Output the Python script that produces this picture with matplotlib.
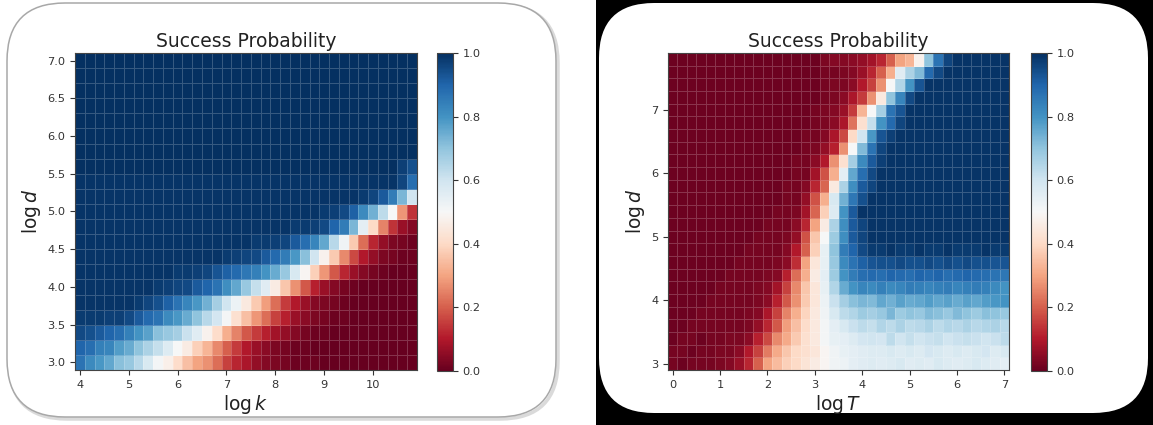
import numpy as np
import matplotlib.pyplot as plt
from matplotlib.patches import FancyBboxPatch, Rectangle

W, H = 1153, 425

# ---- left map: success probability (%) over log k / log d ----
log_k = [4.0, 4.2, 4.4, 4.6, 4.8, 5.0, 5.2, 5.4, 5.6, 5.8, 6.0, 6.2, 6.4, 6.6, 6.8,
         7.0, 7.2, 7.4, 7.6, 7.8, 8.0, 8.2, 8.4, 8.6, 8.8, 9.0, 9.2, 9.4, 9.6, 9.8,
         10.0, 10.2, 10.4, 10.6, 10.8]
log_d_k = [3.0, 3.2, 3.4, 3.6, 3.8, 4.0, 4.2, 4.4, 4.6, 4.8, 5.0, 5.2, 5.4, 5.6,
           5.8, 6.0, 6.2, 6.4, 6.6, 6.8, 7.0]
# rows from log d = 3.0 upwards
succ_k = [
    [87, 82, 79, 76, 71, 69, 64, 58, 51, 47, 41, 35, 30, 27, 22, 16, 12, 9, 6, 4, 3, 2, 1, 1, 1] + [0] * 10,
    [90, 88, 84, 83, 78, 75, 70, 66, 62, 57, 50, 46, 38, 33, 26, 20, 15, 10, 7, 5, 3, 2, 1, 1] + [0] * 11,
    [95, 94, 92, 90, 88, 84, 80, 77, 71, 69, 67, 61, 56, 48, 41, 32, 25, 19, 15, 11, 8, 6, 4, 2, 1, 1] + [0] * 9,
    [98, 98, 98, 97, 97, 95, 92, 89, 87, 82, 79, 75, 70, 64, 59, 51, 42, 35, 28, 22, 16, 11, 7, 5, 3, 2, 1, 1] + [0] * 7,
    [99] * 6 + [98, 96, 94, 91, 87, 83, 79, 74, 67, 60, 53, 45, 37, 29, 22, 15, 10, 7, 4, 3, 2, 1] + [0] * 7,
    [99] * 8 + [98, 97, 96, 95, 92, 90, 87, 81, 76, 69, 62, 56, 46, 36, 27, 19, 11, 7, 4, 2, 1] + [0] * 6,
    [99] * 10 + [98, 98, 97, 96, 93, 91, 89, 86, 84, 80, 75, 69, 58, 49, 38, 28, 19, 12, 7, 4, 2, 1] + [0] * 3,
    [99] * 15 + [98, 97, 96, 95, 92, 89, 85, 79, 71, 60, 48, 37, 26, 17, 10, 6, 3, 2, 1, 1],
    [99] * 18 + [98, 98, 97, 96, 92, 88, 83, 76, 64, 52, 37, 22, 12, 6, 3, 2, 1],
    [99] * 22 + [98, 98, 97, 95, 90, 85, 73, 55, 40, 25, 14, 7, 4],
    [99] * 25 + [98, 97, 95, 91, 82, 74, 63, 50, 28, 14],
    [99] * 29 + [98, 96, 92, 85, 73, 60],
    [99] * 33 + [96, 88],
    [100] * 33 + [97, 94],
    [100] * 35,
    [100] * 35,
    [100] * 35,
    [100] * 35,
    [100] * 35,
    [100] * 35,
    [100] * 35,
]

# ---- right map: success probability (%) over log T / log d ----
log_T = [0.0, 0.2, 0.4, 0.6, 0.8, 1.0, 1.2, 1.4, 1.6, 1.8, 2.0, 2.2, 2.4, 2.6, 2.8,
         3.0, 3.2, 3.4, 3.6, 3.8, 4.0, 4.2, 4.4, 4.6, 4.8, 5.0, 5.2, 5.4, 5.6, 5.8,
         6.0, 6.2, 6.4, 6.6, 6.8, 7.0]
log_d_T = [3.0, 3.2, 3.4, 3.6, 3.8, 4.0, 4.2, 4.4, 4.6, 4.8, 5.0, 5.2, 5.4, 5.6,
           5.8, 6.0, 6.2, 6.4, 6.6, 6.8, 7.0, 7.2, 7.4, 7.6, 7.8]
succ_T = [
    [2, 1, 2, 2, 2, 3, 4, 7, 12, 20, 30, 34, 38, 40, 43, 46, 49, 52, 53, 55,
     56, 57, 56, 57, 58, 56, 57, 56, 58, 57, 56, 57, 58, 57, 56, 55],
    [2, 2, 1, 2, 2, 3, 3, 5, 10, 16, 24, 31, 36, 40, 42, 44, 49, 52, 54, 55,
     56, 57, 57, 58, 57, 58, 57, 59, 58, 57, 58, 57, 58, 59, 57, 58],
    [1, 2, 2, 1, 2, 2, 3, 3, 5, 11, 17, 26, 31, 37, 42, 45, 51, 54, 55, 57,
     59, 60, 59, 63, 60, 62, 60, 61, 62, 60, 61, 62, 61, 60, 61, 63],
    [1, 1, 2, 2, 2, 2, 2, 2, 3, 6, 12, 19, 29, 35, 41, 45, 51, 55, 58, 61,
     63, 62, 65, 63, 66, 63, 64, 66, 63, 65, 64, 66, 64, 65, 66, 64],
    [1, 1, 1, 2, 2, 2, 2, 2, 3, 4, 9, 16, 25, 32, 39, 45, 52, 58, 63, 65,
     68, 67, 69, 73, 68, 70, 69, 72, 71, 69, 72, 70, 68, 71, 70, 69],
    [1, 1, 1, 1, 2, 2, 2, 2, 2, 3, 5, 11, 19, 27, 37, 44, 53, 61, 67, 71,
     73, 72, 76, 74, 77, 75, 76, 78, 76, 77, 75, 77, 76, 78, 79, 80],
    [1, 1, 1, 1, 1, 2, 2, 2, 2, 3, 4, 8, 16, 26, 36, 44, 54, 65, 75, 80,
     83, 82, 84, 82, 83, 85, 84, 83, 84, 85, 83, 84, 85, 84, 82, 80],
    [1, 1, 1, 1, 1, 1, 2, 2, 2, 2, 3, 4, 11, 22, 32, 46, 55, 68, 80, 85,
     88, 89, 88, 90, 89, 88, 90, 89, 90, 88, 89, 90, 89, 88, 87, 86],
    [1, 1, 1, 1, 1, 1, 1, 2, 2, 2, 2, 3, 5, 13, 30, 44, 54, 69, 82, 87,
     91, 93, 94, 94, 95, 94, 94, 95, 94, 95, 94, 95, 94, 94, 93, 93],
    [1, 1, 1, 1, 1, 1, 1, 1, 2, 2, 2, 2, 4, 10, 20, 38, 54, 70, 85, 90,
     95, 98, 98, 99, 98, 98, 99, 98, 98, 99, 98, 98, 98, 99, 98, 98],
    [1] * 9 + [2, 2, 2, 3, 6, 18, 36, 50, 68, 81, 92, 96] + [99] * 15,
    [1] * 10 + [2, 2, 2, 5, 12, 30, 46, 66, 81, 92, 96] + [99] * 15,
    [1] * 11 + [2, 2, 3, 8, 21, 38, 57, 80, 92] + [99] * 16,
    [1] * 12 + [2, 2, 6, 18, 32, 58, 74, 86, 94] + [99] * 15,
    [1] * 12 + [2, 2, 4, 12, 21, 45, 66, 81, 92, 96] + [99] * 14,
    [1] * 13 + [2, 2, 8, 18, 32, 55, 76, 88, 95] + [99] * 14,
    [1] * 13 + [2, 2, 5, 10, 27, 42, 67, 82, 92, 97] + [99] * 13,
    [1] * 14 + [2, 3, 6, 11, 27, 50, 72, 87, 96] + [99] * 13,
    [1] * 14 + [2, 2, 4, 9, 17, 40, 60, 79, 93, 97] + [99] * 12,
    [1] * 15 + [2, 3, 5, 9, 23, 42, 62, 80, 89, 96] + [99] * 11,
    [1] * 15 + [2, 3, 4, 7, 15, 33, 50, 67, 87, 93] + [99] * 11,
    [1] * 15 + [1, 2, 3, 5, 9, 15, 27, 45, 70, 83, 95] + [99] * 10,
    [1] * 15 + [1, 2, 3, 3, 5, 10, 16, 27, 50, 65, 80, 93] + [99] * 9,
    [1] * 16 + [2, 2, 3, 4, 7, 12, 20, 32, 56, 66, 72, 89, 95] + [99] * 7,
    [1] * 16 + [3, 4, 4, 5, 6, 8, 12, 20, 30, 33, 48, 70, 87, 96] + [99] * 6,
]

cbar_ticks = [0.0, 0.2, 0.4, 0.6, 0.8, 1.0]

fig = plt.figure(figsize=(W / 100, H / 100), dpi=100)

# background cards (pixel coordinates)
bg = fig.add_axes([0, 0, 1, 1], zorder=-10)
bg.set_xlim(0, W)
bg.set_ylim(H, 0)
bg.axis('off')
bg.add_patch(FancyBboxPatch((9, 5), 549, 414, boxstyle='round,pad=0,rounding_size=58',
                            fc='none', ec='#dadada', lw=2.5))
bg.add_patch(FancyBboxPatch((7, 3), 549, 414, boxstyle='round,pad=0,rounding_size=58',
                            fc='white', ec='#a8a8a8', lw=1.1))
bg.add_patch(Rectangle((596, 0), W - 596, H, fc='black', ec='none'))
bg.add_patch(FancyBboxPatch((599, 3), 549, 410, boxstyle='round,pad=0,rounding_size=55',
                            fc='white', ec='none'))


def px_axes(x0, y0, x1, y1):
    return fig.add_axes([x0 / W, 1 - y1 / H, (x1 - x0) / W, (y1 - y0) / H])


def heat(ax, cax, x, y, z, xlabel, xticks, yticks):
    z = np.array(z) / 100.0
    mesh = ax.pcolormesh(x, y, z, cmap='RdBu', vmin=0, vmax=1, shading='nearest',
                         edgecolors=(1, 1, 1, 0.2), linewidth=0.5)
    ax.set_xticks(xticks)
    ax.set_yticks(yticks)
    ax.set_title('Success Probability', fontsize=13.5, pad=4.5, color='#222222')
    ax.set_xlabel(xlabel, fontsize=13.5, labelpad=2, color='#222222')
    ax.set_ylabel(r'$\log d$', fontsize=13.5, labelpad=3, color='#222222')
    ax.tick_params(labelsize=8.2, colors='#333333', length=3.5)
    for s in ax.spines.values():
        s.set_color('#444444')
    cb = fig.colorbar(mesh, cax=cax)
    cb.set_ticks(cbar_ticks)
    cb.ax.tick_params(labelsize=8.2, colors='#333333', length=3.5)
    cb.outline.set_edgecolor('#444444')


ax1 = px_axes(75, 53, 417, 370)
cax1 = px_axes(437, 53, 453, 371)
heat(ax1, cax1, log_k, log_d_k, succ_k, r'$\log k$',
     [4, 5, 6, 7, 8, 9, 10], [3.0, 3.5, 4.0, 4.5, 5.0, 5.5, 6.0, 6.5, 7.0])

ax2 = px_axes(668, 53, 1009, 370)
cax2 = px_axes(1031, 53, 1047, 371)
heat(ax2, cax2, log_T, log_d_T, succ_T, r'$\log T$',
     [0, 1, 2, 3, 4, 5, 6, 7], [3, 4, 5, 6, 7])

fig.savefig('out.png', dpi=100)
